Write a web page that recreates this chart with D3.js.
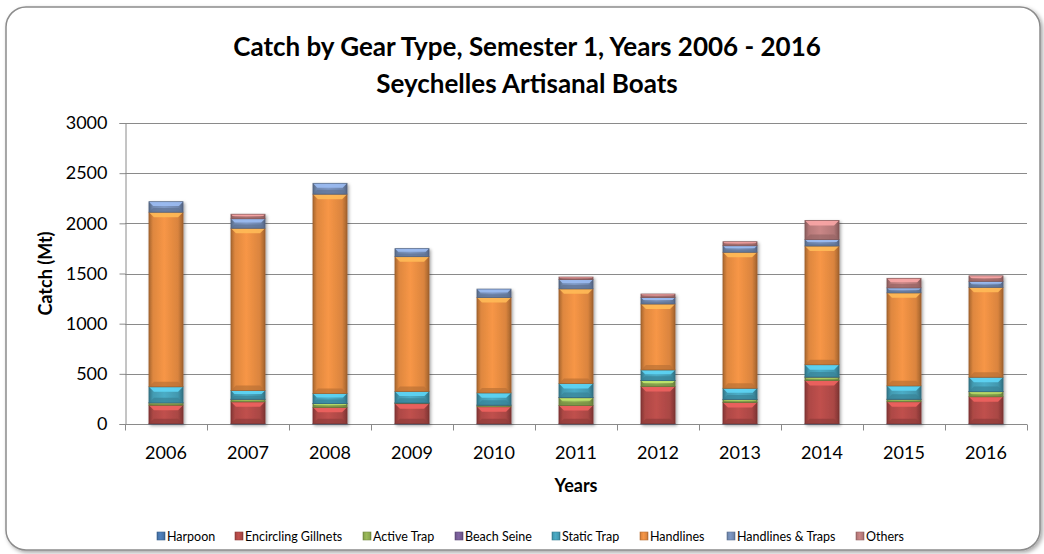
<!DOCTYPE html>
<html>
<head>
<meta charset="utf-8">
<script src="https://cdn.jsdelivr.net/npm/d3@7"></script>
<style>
  html, body { margin: 0; padding: 0; background: #fff; }
  svg { display: block; }
  text { font-family: Lato, "Open Sans", sans-serif; fill: #000; }
</style>
</head>
<body>
<svg id="chart" width="1044" height="554"></svg>
<script>
// ---- data ----
const years = ["2006","2007","2008","2009","2010","2011","2012","2013","2014","2015","2016"];
const seriesNames = ["Harpoon","Encircling Gillnets","Active Trap","Beach Seine","Static Trap","Handlines","Handlines & Traps","Others"];
const harpoon          = [3, 3, 3, 3, 2, 2, 3, 2, 3, 2, 2];
const encirclingGill   = [185, 218, 163, 200, 170, 183, 370, 213, 430, 220, 270];
const activeTrap       = [22, 25, 37, 6, 15, 77, 60, 30, 34, 24, 50];
const beachSeine       = [1, 1, 1, 1, 1, 2, 1, 1, 1, 1, 1];
const staticTrap       = [160, 87, 100, 115, 122, 140, 105, 110, 123, 133, 143];
const handlines        = [1740, 1617, 1987, 1343, 950, 943, 657, 1356, 1183, 927, 896];
const handlinesTraps   = [105, 95, 108, 80, 85, 93, 65, 65, 65, 50, 60];
const others           = [0, 45, 0, 0, 0, 25, 35, 40, 190, 95, 55];
const yTicks = [0, 500, 1000, 1500, 2000, 2500, 3000];
const seriesColors = ["#4F81BD","#C0504D","#9BBB59","#8064A2","#4BACC6","#F79646","#7E98C4","#C98686"];

const seriesValues = [harpoon, encirclingGill, activeTrap, beachSeine, staticTrap, handlines, handlinesTraps, others];
const table = years.map((y, i) => {
  const row = { year: y };
  seriesNames.forEach((s, k) => row[s] = seriesValues[k][i]);
  return row;
});

// ---- layout ----
const svg = d3.select("#chart");
const plot = { left: 125, right: 1027, top: 123, bottom: 424 };

const defs = svg.append("defs");
const sh = defs.append("filter").attr("id", "frameShadow").attr("x", "-5%").attr("y", "-5%").attr("width", "110%").attr("height", "110%");
sh.append("feDropShadow").attr("dx", 2).attr("dy", 2).attr("stdDeviation", 2).attr("flood-color", "#000").attr("flood-opacity", 0.35);
const bsh = defs.append("filter").attr("id", "barShadow").attr("x", "-20%").attr("y", "-5%").attr("width", "150%").attr("height", "115%");
bsh.append("feDropShadow").attr("dx", 1.5).attr("dy", 1.5).attr("stdDeviation", 1.5).attr("flood-color", "#000").attr("flood-opacity", 0.35);

seriesColors.forEach((c, k) => {
  const base = d3.color(c);
  const g = defs.append("linearGradient").attr("id", "grad" + k).attr("x1", "0%").attr("x2", "100%").attr("y1", "0%").attr("y2", "0%");
  g.append("stop").attr("offset", "0%").attr("stop-color", base.darker(1.1));
  g.append("stop").attr("offset", "12%").attr("stop-color", base.darker(0.3));
  g.append("stop").attr("offset", "45%").attr("stop-color", base);
  g.append("stop").attr("offset", "85%").attr("stop-color", base.darker(0.35));
  g.append("stop").attr("offset", "100%").attr("stop-color", base.darker(1.2));
});

// chart frame
svg.append("rect")
  .attr("x", 6).attr("y", 7).attr("width", 1034).attr("height", 543)
  .attr("rx", 20).attr("ry", 20)
  .attr("fill", "#fff").attr("stroke", "#8c8c8c").attr("stroke-width", 1.5)
  .attr("filter", "url(#frameShadow)");

// scales
const x = d3.scaleBand().domain(years).range([plot.left, plot.right]).paddingInner(1.4 / 2.4).paddingOuter(0.7 / 2.4);
const xCat = d3.scaleBand().domain(years).range([plot.left, plot.right]);
const y = d3.scaleLinear().domain([0, 3000]).range([plot.bottom, plot.top]);

// gridlines
svg.append("g").selectAll("line").data(yTicks).join("line")
  .attr("x1", plot.left).attr("x2", plot.right)
  .attr("y1", d => Math.round(y(d)) + 0.5).attr("y2", d => Math.round(y(d)) + 0.5)
  .attr("stroke", "#8a8a8a").attr("stroke-width", 1);

// y axis
const yAxis = d3.axisLeft(y).tickValues(yTicks).tickSize(6).tickPadding(12).tickFormat(d3.format("d"));
const yg = svg.append("g").attr("transform", `translate(${plot.left + 0.5},0)`).call(yAxis);
yg.select(".domain").attr("stroke", "#8a8a8a");
yg.selectAll(".tick line").attr("stroke", "#8a8a8a");
yg.selectAll(".tick text").attr("font-size", 18).style("font-family", "Lato, sans-serif").attr("fill", "#000");

// x axis (ticks at category boundaries)
const xg = svg.append("g").attr("transform", `translate(0,${plot.bottom + 0.5})`);
xg.append("line").attr("x1", plot.left).attr("x2", plot.right).attr("stroke", "#8a8a8a");
const boundaries = years.map(d => xCat(d)).concat([plot.right]);
xg.selectAll("line.tk").data(boundaries).join("line").attr("class", "tk")
  .attr("x1", d => Math.round(d) + 0.5).attr("x2", d => Math.round(d) + 0.5)
  .attr("y1", 0).attr("y2", 6).attr("stroke", "#8a8a8a");
xg.selectAll("text").data(years).join("text")
  .attr("x", d => xCat(d) + xCat.bandwidth() / 2)
  .attr("y", 34)
  .attr("text-anchor", "middle")
  .attr("font-size", 18)
  .text(d => d);

// stacked bars
const stack = d3.stack().keys(seriesNames);
const layers = stack(table);
const barG = svg.append("g");
layers.forEach((layer, k) => {
  const base = d3.color(seriesColors[k]);
  const g = barG.append("g");
  layer.forEach((d, i) => {
    const v = d[1] - d[0];
    if (v <= 0) return;
    const bx = x(years[i]), bw = x.bandwidth();
    const y0 = y(d[1]), y1 = y(d[0]);
    const h = y1 - y0;
    const b = Math.min(5, h / 2.5);
    const seg = g.append("g");
    seg.append("rect").attr("x", bx).attr("y", y0).attr("width", bw).attr("height", h)
      .attr("fill", `url(#grad${k})`);
    if (h > 2) {
      seg.append("polygon")
        .attr("points", [[bx, y0], [bx + bw, y0], [bx + bw - b, y0 + b], [bx + b, y0 + b]].map(p => p.join(",")).join(" "))
        .attr("fill", base.brighter(0.6)).attr("opacity", 0.9);
      seg.append("polygon")
        .attr("points", [[bx, y1], [bx + bw, y1], [bx + bw - b, y1 - b], [bx + b, y1 - b]].map(p => p.join(",")).join(" "))
        .attr("fill", base.darker(0.8)).attr("opacity", 0.7);
    }
    seg.append("rect").attr("x", bx).attr("y", y0).attr("width", bw).attr("height", h)
      .attr("fill", "none").attr("stroke", base.darker(1.3)).attr("stroke-width", 0.8).attr("stroke-opacity", 0.8);
  });
});
barG.attr("filter", "url(#barShadow)");

// titles
svg.append("text").attr("x", 527).attr("y", 56).attr("text-anchor", "middle")
  .attr("font-size", 26).attr("font-weight", "bold").text("Catch by Gear Type, Semester 1, Years 2006 - 2016");
svg.append("text").attr("x", 527).attr("y", 93).attr("text-anchor", "middle")
  .attr("font-size", 26).attr("font-weight", "bold").text("Seychelles Artisanal Boats");

svg.append("text")
  .attr("transform", `translate(52,${(plot.top + plot.bottom) / 2}) rotate(-90)`)
  .attr("text-anchor", "middle").attr("font-size", 18).attr("font-weight", "bold").text("Catch (Mt)");

svg.append("text").attr("x", (plot.left + plot.right) / 2).attr("y", 492).attr("text-anchor", "middle")
  .attr("font-size", 18).attr("font-weight", "bold").text("Years");

// legend
const legendX = [157, 235, 363, 455, 552, 640, 727, 856];
const lg = svg.append("g");
seriesNames.forEach((s, k) => {
  const base = d3.color(seriesColors[k]);
  lg.append("rect").attr("x", legendX[k]).attr("y", 532).attr("width", 8).attr("height", 8)
    .attr("fill", `url(#grad${k})`).attr("stroke", base.darker(0.8)).attr("stroke-width", 0.6);
  lg.append("text").attr("x", legendX[k] + 10).attr("y", 540.5).attr("font-size", 12.5).text(s);
});
</script>
</body>
</html>
